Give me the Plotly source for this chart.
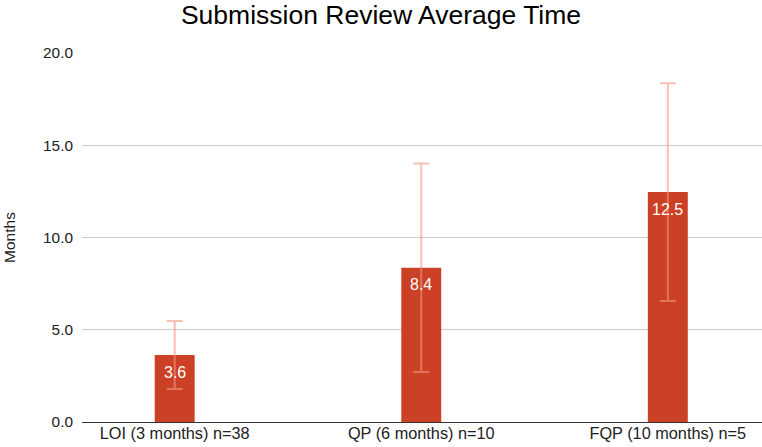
import plotly.graph_objects as go

categories = ["LOI (3 months) n=38", "QP (6 months) n=10", "FQP (10 months) n=5"]
avg_months = [3.63, 8.36, 12.46]
err_months = [1.84, 5.65, 5.9]
y_ticks = [0, 5, 10, 15, 20]

BAR = "#cc4125"
FONT = "Liberation Sans, Arial, sans-serif"

xs = list(range(len(categories)))

fig = go.Figure()
fig.add_trace(go.Bar(
    x=xs,
    y=avg_months,
    width=0.162,
    marker=dict(color=BAR, line=dict(width=0)),
    error_y=dict(type="data", array=err_months, visible=True,
                 color="rgba(240,150,130,0.6)", thickness=2, width=8),
    hoverinfo="skip",
))

for xi, v in zip(xs, avg_months):
    fig.add_annotation(x=xi, y=v, xref="x", yref="y", text=f"{v:.1f}",
                       showarrow=False, yanchor="middle", yshift=-17,
                       font=dict(color="white", size=16, family=FONT))

fig.update_layout(
    width=762, height=447,
    margin=dict(l=82, r=0, t=53, b=25),
    paper_bgcolor="white", plot_bgcolor="white",
    showlegend=False,
    font=dict(family=FONT, color="#222222"),
    title=dict(text="Submission Review Average Time", x=0.5, xanchor="center",
               xref="container", y=1 - 15 / 447, yref="container", yanchor="middle",
               font=dict(size=26.5, color="#000000", family=FONT)),
)
fig.update_xaxes(
    range=[-0.376, 2.382],
    tickmode="array", tickvals=xs, ticktext=categories,
    showgrid=False, zeroline=False, showline=False, ticks="",
    tickfont=dict(size=16.3, color="#222222"),
)
fig.update_yaxes(
    range=[0, 20], tickvals=y_ticks, tickformat=".1f",
    showgrid=True, gridcolor="#cccccc", gridwidth=1,
    zeroline=True, zerolinecolor="#333333", zerolinewidth=1,
    showline=False, ticks="", ticklabelstandoff=8,
    tickfont=dict(size=15.4, color="#222222"),
    title=dict(text="Months", font=dict(size=15.5, color="#222222"), standoff=23),
)

fig.write_html("out.html", config={"displayModeBar": False},
               post_script="document.body.style.margin='0';")
